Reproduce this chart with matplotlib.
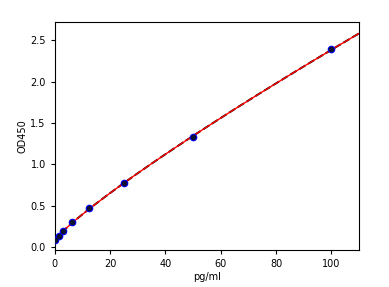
import matplotlib
matplotlib.use("Agg")
import matplotlib.pyplot as plt
import numpy as np

conc = [0, 1.5625, 3.125, 6.25, 12.5, 25, 50, 100]
od450 = [0.08, 0.14, 0.20, 0.30, 0.47, 0.78, 1.33, 2.39]

# power-law standard curve y = a + b*x^c, fitted to the standards
x = np.array(conc)
y = np.array(od450)
best = None
for c in np.linspace(0.5, 1.2, 701):
    A = np.column_stack([np.ones_like(x), x ** c])
    sol, res, *_ = np.linalg.lstsq(A, y, rcond=None)
    err = np.sum((A @ sol - y) ** 2)
    if best is None or err < best[0]:
        best = (err, sol, c)
_, (a, b), c = best
xs = np.linspace(0, 110, 300)
ys = a + b * xs ** c

fig = plt.figure(figsize=(3.89, 2.87), dpi=100)
ax = fig.add_axes([0.141, 0.129, 0.782, 0.794])

ax.plot(xs, ys, color="black", linewidth=1.4, linestyle="--")
ax.plot(xs, ys, color="red", linewidth=1.0)
ax.plot(conc, od450, "o", color="blue", markersize=4.5, zorder=3)
ax.plot(conc, od450, "o", color="#101030", markersize=3, zorder=4)

ax.set_xlim(0, 110)
ax.set_ylim(-0.035, 2.72)
ax.set_xticks([0, 20, 40, 60, 80, 100])
ax.set_yticks([0.0, 0.5, 1.0, 1.5, 2.0, 2.5])
ax.tick_params(labelsize=7, length=3, width=0.8)
ax.set_xlabel("pg/ml", fontsize=7, labelpad=2)
ax.set_ylabel("OD450", fontsize=7, labelpad=2)

fig.savefig("out.png", dpi=100)
plt.close(fig)
